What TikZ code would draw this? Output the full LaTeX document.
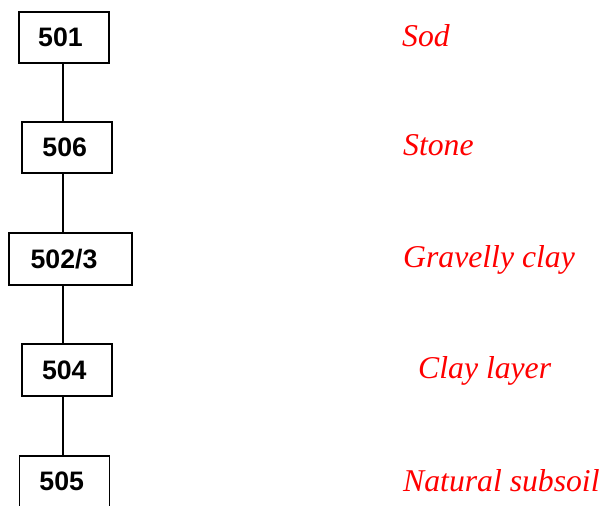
\documentclass[tikz,border=0pt]{standalone}
\usepackage{fontspec}
\setmainfont{Liberation Serif}
\newfontfamily\arialfont{Liberation Sans}
\begin{document}
\begin{tikzpicture}[x=1pt,y=-1pt,
  ctxbox/.style={draw=black,line width=1.2pt,inner sep=0pt,minimum height=51pt,text depth=0pt,
    font=\arialfont\bfseries\fontsize{26.7}{31}\selectfont},
  layerlabel/.style={anchor=base west,inner sep=0pt,text=red,
    font=\itshape\fontsize{31.7}{36}\selectfont},
  link/.style={draw=black,line width=1.2pt}]
\useasboundingbox (0,0) rectangle (611,506);
\node[ctxbox,minimum width=90pt] (n501) at (64,37.5) {\kern-7pt 501};
\node[ctxbox,minimum width=90pt] (n506) at (67,147.5) {\kern-4.6pt 506};
\node[ctxbox,minimum width=123pt,minimum height=52pt] (n502) at (70.5,259) {\kern-13pt 502/3};
\node[ctxbox,minimum width=90pt,minimum height=52pt] (n504) at (67,370) {\kern-5.4pt 504};
\node[ctxbox,minimum width=90pt] (n505) at (64.5,481.5) {\kern-5.6pt 505};
\coordinate (lx) at (63,0);
\draw[link] (lx |- n501.south) -- (lx |- n506.north);
\draw[link] (lx |- n506.south) -- (lx |- n502.north);
\draw[link] (lx |- n502.south) -- (lx |- n504.north);
\draw[link] (lx |- n504.south) -- (lx |- n505.north);
\node[layerlabel] (l501) at (402,46) {Sod};
\node[layerlabel] (l506) at (403,155) {Stone};
\node[layerlabel] (l502) at (403,267) {Gravelly clay};
\node[layerlabel] (l504) at (418,378) {Clay layer};
\node[layerlabel] (l505) at (403,491) {Natural subsoil};
\end{tikzpicture}
\end{document}
